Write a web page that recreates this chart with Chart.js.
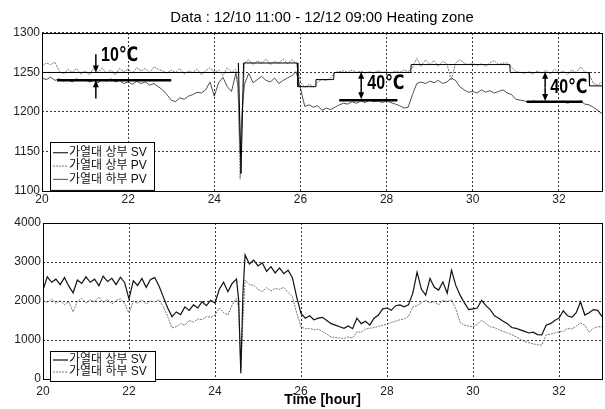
<!DOCTYPE html>
<html>
<head>
<meta charset="utf-8">
<script src="https://cdn.jsdelivr.net/npm/chart.js@4.4.1/dist/chart.umd.min.js"></script>
<style>
  body { margin: 0; background: #fff; }
  #wrap { position: relative; width: 605px; height: 409px; }
  #wrap canvas { position: absolute; left: 0; top: 0; }
</style>
</head>
<body>
<div id="wrap">
  <canvas id="temp_chart" width="605" height="409"></canvas>
  <canvas id="power_chart" width="605" height="409"></canvas>
</div>
<script>
// sample times (hour), 0.1 h apart plus two extra samples around the dip at 24.6
var hours = [];
for (var i = 0; i <= 130; i++) hours.push(+(20 + i / 10).toFixed(2));
hours.splice(46, 0, 24.55);
hours.splice(48, 0, 24.65);

var xTicks = [20, 22, 24, 26, 28, 30, 32];

// top plot: set value of upper heater (step line)
var svHours = [20, 24.55, 24.56, 24.62, 24.68, 25.93, 25.94, 26.35, 26.36, 26.77, 26.78, 28.56, 28.57, 30.86, 30.87, 32.7, 32.71, 33];
var svTemp  = [1250, 1250, 1262, 1122, 1262, 1262, 1232, 1232, 1241, 1241, 1250, 1250, 1260, 1260, 1250, 1250, 1233, 1233];

// top plot: measured temperatures
var pvUpper = [
  1258, 1262, 1260, 1263, 1252, 1248, 1254, 1250, 1255, 1248,
  1252, 1247, 1255, 1250, 1256, 1249, 1253, 1247, 1255, 1251,
  1254, 1249, 1256, 1252, 1255, 1250, 1257, 1254, 1252, 1249,
  1253, 1250, 1255, 1248, 1252, 1250, 1254, 1247, 1252, 1256,
  1250, 1253, 1246, 1256, 1250, 1254,
  1238, 1115, 1190,
  1262, 1266, 1260,
  1265, 1261, 1267, 1260, 1264, 1262, 1267, 1261, 1266, 1262,
  1238, 1231, 1235, 1232, 1238, 1241, 1240, 1243, 1250, 1251,
  1252, 1250, 1253, 1250, 1252, 1249, 1251, 1249, 1252, 1250,
  1251, 1249, 1252, 1250, 1253, 1251, 1256, 1268, 1258, 1266,
  1260, 1265, 1258, 1264, 1261, 1240, 1262, 1266, 1262, 1260,
  1262, 1259, 1261, 1258, 1262, 1265, 1260, 1262, 1262, 1257,
  1251, 1250, 1249, 1251, 1248, 1252, 1249, 1253, 1248, 1254,
  1249, 1252, 1247, 1253, 1250, 1257, 1251, 1248, 1236, 1234,
  1238
];
var pvLower = [
  1243, 1241, 1244, 1240, 1242, 1239, 1241, 1238, 1242, 1240,
  1241, 1238, 1240, 1237, 1241, 1239, 1242, 1238, 1240, 1236,
  1238, 1235, 1239, 1236, 1238, 1234, 1236, 1232, 1228, 1222,
  1215, 1213, 1218, 1216, 1220, 1222, 1225, 1224, 1228, 1238,
  1220, 1237, 1244, 1232, 1226, 1249,
  1232, 1150, 1205,
  1235, 1249, 1237,
  1241, 1245, 1240, 1238, 1243, 1236, 1240, 1243, 1246, 1251,
  1230, 1207, 1209, 1206, 1208, 1202, 1205, 1203, 1206, 1209,
  1211, 1210, 1213, 1211, 1214, 1212, 1215, 1213, 1214, 1212,
  1214, 1212, 1210, 1208, 1205, 1206, 1222, 1236, 1238, 1236,
  1239, 1237, 1240, 1236, 1238, 1243, 1240, 1232, 1228, 1225,
  1226, 1224, 1228, 1225, 1227, 1224, 1226, 1228, 1224, 1222,
  1216, 1215, 1214, 1212, 1214, 1213, 1212, 1214, 1212, 1213,
  1212, 1214, 1211, 1213, 1212, 1214, 1210, 1209, 1206, 1202,
  1198
];

// top plot: marked temperature gaps
var arrowX    = [21.25, 21.25, 27.41, 27.41, 31.68, 31.68];
var arrowFrom = [1273, 1217, 1233, 1233, 1231, 1231];
var arrowTo   = [1250, 1240, 1251, 1216, 1251, 1214];
var barFrom = [20.35, 26.9, 31.25];
var barTo   = [23.0, 28.25, 32.55];
var barY    = [1240, 1215, 1213];
var noteText = ['10℃', '40℃', '40℃'];
var noteX    = [21.37, 27.55, 31.8];
var noteY    = [1272, 1236, 1231];

// bottom plot
var svUpperOut = [
  2280, 2620, 2480, 2560, 2420, 2600, 2380, 2210, 2540, 2450,
  2620, 2480, 2560, 2390, 2640, 2500, 2580, 2420, 2610, 2470,
  2050, 2520, 2400, 2580, 2350, 2550, 2600, 2380, 2100, 1820,
  1600, 1720, 1650, 1850, 1760, 1900, 1820, 1980, 1880, 2020,
  1950, 2300, 2480, 2240, 2450, 2560,
  2030, 150, 2200,
  3180, 2950, 3050,
  2900, 2980, 2760, 2880, 2720, 2850, 2700, 2790, 2600, 2100,
  1680, 1560, 1620, 1520, 1560, 1580, 1500, 1420, 1380, 1340,
  1300, 1360, 1290, 1560, 1420, 1480, 1380, 1560, 1640, 1800,
  1820, 1760, 1880, 1900, 1850, 1900, 2200, 2740, 2300, 2150,
  2580, 2350, 2280, 2490, 2200, 2790, 2400, 2150, 1950, 1780,
  1800, 1820, 2020, 1880, 1780, 1620, 1560, 1480, 1420, 1320,
  1300, 1260, 1220, 1180, 1200, 1140, 1130, 1380, 1420, 1500,
  1560, 1750, 1620, 1580, 1700, 1980, 1640, 1700, 1780, 1760,
  1600
];
var svLowerOut = [
  2020, 1960, 2050, 1940, 2010, 1900, 1980, 1720, 1990, 2070,
  1950, 2030, 1980, 2100, 1960, 2040, 1920, 2010, 2060, 1930,
  1690, 2000, 1940, 2030, 1920, 2000, 1980, 2030, 1850, 1600,
  1310, 1340, 1420, 1380, 1500, 1460, 1540, 1520, 1600, 1580,
  1640, 1820, 1700, 1640, 1900, 2070,
  1820, 230, 1500,
  2540, 2420, 2400,
  2300, 2240, 2340, 2260, 2320, 2300, 2350, 2220, 2110, 1690,
  1340, 1290, 1300, 1260, 1280, 1220, 1150, 1080, 1060, 1050,
  1040, 1080, 1050, 1210, 1200, 1280, 1300, 1320, 1350, 1380,
  1400, 1450, 1480, 1520, 1540, 1600, 1850, 1880, 1960, 2020,
  1950, 1980, 1900, 2020, 1980, 2030, 1800, 1450, 1380, 1360,
  1340, 1400, 1510, 1420, 1340, 1320, 1260, 1220, 1180, 1140,
  1080, 1020, 960, 930, 900, 880, 870, 1130, 1150, 1180,
  1210, 1220, 1300, 1280, 1350, 1440, 1380, 1200, 1300, 1340,
  1340
];

var FONT = "'Liberation Sans', Arial, 'Noto Sans CJK KR', sans-serif";

function pairs(xs, ys) {
  return ys.map(function (v, i) { return { x: xs[i], y: v }; });
}

// matlab-like box round the plot area + legend box in the lower left corner
var boxPlugin = {
  id: 'boxLegend',
  afterDatasetsDraw: function (chart, args, opts) {
    var ctx = chart.ctx, a = chart.chartArea;
    ctx.save();
    ctx.strokeStyle = '#000';
    ctx.lineWidth = 1;
    ctx.strokeRect(Math.round(a.left) + 0.5, Math.round(a.top) + 0.5, Math.round(a.right - a.left), Math.round(a.bottom - a.top));

    var sets = chart.data.datasets;
    var h = opts.pad * 2 + opts.rowH * sets.length;
    var x0 = a.left + opts.left, y0 = a.bottom - opts.bottom - h;
    ctx.fillStyle = '#fff';
    ctx.fillRect(x0, y0, opts.width, h);
    ctx.strokeRect(Math.round(x0) + 0.5, Math.round(y0) + 0.5, opts.width, h);
    ctx.font = '12px ' + FONT;
    ctx.textBaseline = 'middle';
    sets.forEach(function (ds, i) {
      var cy = y0 + opts.pad + opts.rowH * (i + 0.5);
      ctx.strokeStyle = ds.borderColor;
      ctx.lineWidth = ds.borderWidth;
      ctx.setLineDash(ds.borderDash || []);
      ctx.beginPath();
      ctx.moveTo(x0 + 3, cy);
      ctx.lineTo(x0 + 18, cy);
      ctx.stroke();
      ctx.setLineDash([]);
      ctx.fillStyle = '#111';
      ctx.fillText(ds.label, x0 + 19, cy);
    });
    ctx.restore();
  }
};

function arrow(ctx, x, y0, y1) {
  var dir = y1 > y0 ? 1 : -1;
  ctx.lineWidth = 1.5;
  ctx.beginPath();
  ctx.moveTo(x, y0);
  ctx.lineTo(x, y1 - dir * 5);
  ctx.stroke();
  ctx.beginPath();
  ctx.moveTo(x, y1);
  ctx.lineTo(x - 3, y1 - dir * 7);
  ctx.lineTo(x + 3, y1 - dir * 7);
  ctx.closePath();
  ctx.fill();
}

var gapPlugin = {
  id: 'gapMarks',
  afterDatasetsDraw: function (chart) {
    var ctx = chart.ctx, xs = chart.scales.x, ys = chart.scales.y;
    ctx.save();
    ctx.strokeStyle = '#000';
    ctx.fillStyle = '#000';
    ctx.lineWidth = 2.5;
    for (var i = 0; i < barY.length; i++) {
      ctx.beginPath();
      ctx.moveTo(xs.getPixelForValue(barFrom[i]), ys.getPixelForValue(barY[i]));
      ctx.lineTo(xs.getPixelForValue(barTo[i]), ys.getPixelForValue(barY[i]));
      ctx.stroke();
    }
    for (var j = 0; j < arrowX.length; j++) {
      arrow(ctx, xs.getPixelForValue(arrowX[j]), ys.getPixelForValue(arrowFrom[j]), ys.getPixelForValue(arrowTo[j]));
    }
    ctx.font = "bold 20px 'Liberation Sans', 'DejaVu Sans', sans-serif";
    ctx.textBaseline = 'middle';
    for (var k = 0; k < noteText.length; k++) {
      ctx.save();
      ctx.translate(xs.getPixelForValue(noteX[k]), ys.getPixelForValue(noteY[k]));
      ctx.scale(0.8, 1);
      ctx.fillText(noteText[k], 0, 0);
      ctx.restore();
    }
    ctx.restore();
  }
};

function xAxis(height, showTitle) {
  return {
    type: 'linear',
    min: 20,
    max: 33,
    afterBuildTicks: function (scale) {
      scale.ticks = xTicks.map(function (v) { return { value: v }; });
    },
    afterFit: function (scale) { scale.height = height; },
    ticks: { font: { family: FONT, size: 12 }, color: '#222', padding: showTitle ? 5 : 1, maxRotation: 0, autoSkip: false },
    grid: { color: '#333', lineWidth: 1, drawTicks: false },
    border: { display: false, dash: [2, 2] },
    title: {
      display: showTitle,
      text: 'Time [hour]',
      color: '#000',
      font: { family: FONT, size: 14, weight: 'bold' },
      padding: { top: 0, bottom: 0 }
    }
  };
}

function yAxis(width, min, max, step) {
  return {
    min: min,
    max: max,
    afterFit: function (scale) { scale.width = width; },
    ticks: {
      stepSize: step,
      font: { family: FONT, size: 12 },
      color: '#222',
      padding: 2,
      callback: function (v) { return String(v); }
    },
    grid: { color: '#333', lineWidth: 1, drawTicks: false },
    border: { display: false, dash: [2, 2] }
  };
}

var tempChart = new Chart(document.getElementById('temp_chart'), {
  type: 'line',
  data: {
    datasets: [{
      label: '가열대 상부 SV',
      data: pairs(svHours, svTemp),
      borderColor: '#000',
      borderWidth: 1
    }, {
      label: '가열대 상부 PV',
      data: pairs(hours, pvUpper),
      borderColor: '#777',
      borderWidth: 1,
      borderDash: [2, 1]
    }, {
      label: '가열대 하부 PV',
      data: pairs(hours, pvLower),
      borderColor: '#222',
      borderWidth: 0.8
    }]
  },
  options: {
    responsive: false,
    animation: false,
    devicePixelRatio: 1,
    layout: { padding: { left: 0, right: 3, top: 0, bottom: 0 } },
    elements: { point: { radius: 0 }, line: { tension: 0, fill: false } },
    scales: {
      x: xAxis(218, false),
      y: yAxis(42, 1100, 1300, 50)
    },
    plugins: {
      legend: { display: false },
      tooltip: { enabled: false },
      title: {
        display: true,
        fullSize: false,   // centre over the plot area, not the canvas
        text: 'Data : 12/10 11:00 - 12/12 09:00 Heating zone',
        color: '#000',
        font: { family: FONT, size: 14.8, weight: 'normal' },
        padding: { top: 9.5, bottom: 5.7 }
      },
      boxLegend: { left: 8, bottom: 1, width: 104, rowH: 13.3, pad: 4 }
    }
  },
  plugins: [boxPlugin, gapPlugin]
});

var powerChart = new Chart(document.getElementById('power_chart'), {
  type: 'line',
  data: {
    datasets: [{
      label: '가열대 상부 SV',
      data: pairs(hours, svUpperOut),
      borderColor: '#111',
      borderWidth: 1.2
    }, {
      label: '가열대 하부 SV',
      data: pairs(hours, svLowerOut),
      borderColor: '#777',
      borderWidth: 1,
      borderDash: [2, 1]
    }]
  },
  options: {
    responsive: false,
    animation: false,
    devicePixelRatio: 1,
    layout: { padding: { left: 0, right: 3, top: 223, bottom: 0 } },
    elements: { point: { radius: 0 }, line: { tension: 0, fill: false } },
    scales: {
      x: xAxis(30, true),
      y: yAxis(43, 0, 4000, 1000)
    },
    plugins: {
      legend: { display: false },
      tooltip: { enabled: false },
      boxLegend: { left: 7, bottom: -2, width: 105, rowH: 12, pad: 3 }
    }
  },
  plugins: [boxPlugin]
});
</script>
</body>
</html>
